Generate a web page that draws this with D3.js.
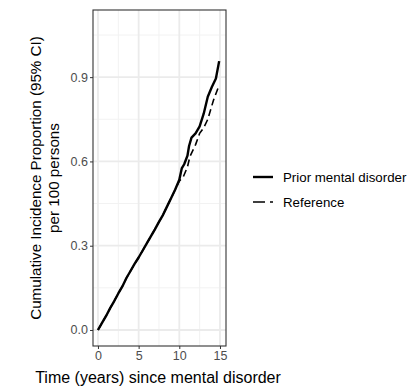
<!DOCTYPE html>
<html>
<head>
<meta charset="utf-8">
<script src="https://cdn.jsdelivr.net/npm/d3@7"></script>
<style>
body { margin: 0; background: #fff; }
text { font-family: "Liberation Sans", Arial, sans-serif; }
</style>
</head>
<body>
<svg width="408" height="387"></svg>
<script>
// data
var priorT = [0, 0.5, 1, 1.5, 2, 2.5, 3, 3.5, 4, 4.5, 5, 5.5, 6, 6.5, 7, 7.5, 8, 8.5, 9, 9.5, 10, 10.3, 10.6, 11, 11.2, 11.5, 12, 12.5, 13, 13.5, 14, 14.5, 14.9];
var priorV = [0, 0.025, 0.05, 0.078, 0.103, 0.13, 0.155, 0.185, 0.21, 0.235, 0.258, 0.283, 0.308, 0.333, 0.358, 0.385, 0.41, 0.44, 0.47, 0.5, 0.535, 0.575, 0.59, 0.62, 0.655, 0.685, 0.70, 0.725, 0.77, 0.83, 0.865, 0.895, 0.957];
var refT = [0, 0.5, 1, 1.5, 2, 2.5, 3, 3.5, 4, 4.5, 5, 5.5, 6, 6.5, 7, 7.5, 8, 8.5, 9, 9.5, 10, 10.5, 11, 11.3, 12, 12.5, 13, 13.5, 14.2, 14.9];
var refV = [0, 0.025, 0.05, 0.078, 0.103, 0.13, 0.155, 0.185, 0.21, 0.235, 0.258, 0.283, 0.308, 0.333, 0.358, 0.385, 0.41, 0.44, 0.47, 0.5, 0.53, 0.546, 0.58, 0.617, 0.66, 0.70, 0.72, 0.75, 0.818, 0.872];
var xTicks = [0, 5, 10, 15];
var yTicks = [0, 0.3, 0.6, 0.9];
var seriesNames = ["Prior mental disorder", "Reference"];

var svg = d3.select("svg");
var L = 93, R = 226, T = 10, B = 346;

var x = d3.scaleLinear().domain([-0.61, 15.74]).range([L, R]);
var y = d3.scaleLinear().domain([-0.057, 1.139]).range([B, T]);

// grid
var minorX = [2.5, 7.5, 12.5], minorY = [0.15, 0.45, 0.75, 1.05];
svg.selectAll(".mx").data(minorX).enter().append("line")
	.attr("x1", d => x(d)).attr("x2", d => x(d)).attr("y1", T).attr("y2", B)
	.attr("stroke", "#f2f2f2").attr("stroke-width", 1);
svg.selectAll(".my").data(minorY).enter().append("line")
	.attr("y1", d => y(d)).attr("y2", d => y(d)).attr("x1", L).attr("x2", R)
	.attr("stroke", "#f2f2f2").attr("stroke-width", 1);
svg.selectAll(".gx").data(xTicks).enter().append("line")
	.attr("x1", d => x(d)).attr("x2", d => x(d)).attr("y1", T).attr("y2", B)
	.attr("stroke", "#ebebeb").attr("stroke-width", 1.8);
svg.selectAll(".gy").data(yTicks).enter().append("line")
	.attr("y1", d => y(d)).attr("y2", d => y(d)).attr("x1", L).attr("x2", R)
	.attr("stroke", "#ebebeb").attr("stroke-width", 1.8);

// lines
var line = d3.line().x(d => x(d[0])).y(d => y(d[1])).curve(d3.curveLinear);
var prior = priorT.map((t, i) => [t, priorV[i]]);
var ref = refT.map((t, i) => [t, refV[i]]);

svg.append("path").datum(ref).attr("d", line)
	.attr("fill", "none").attr("stroke", "#000").attr("stroke-width", 1.6)
	.attr("stroke-dasharray", "7,4");
svg.append("path").datum(prior).attr("d", line)
	.attr("fill", "none").attr("stroke", "#000").attr("stroke-width", 2.4)
	.attr("stroke-linejoin", "round");

// panel border
svg.append("rect").attr("x", L).attr("y", T).attr("width", R - L).attr("height", B - T)
	.attr("fill", "none").attr("stroke", "#333").attr("stroke-width", 1.1);

// axes
var xAxis = svg.append("g").attr("transform", "translate(0," + B + ")")
	.call(d3.axisBottom(x).tickValues(xTicks).tickSize(3).tickPadding(2).tickFormat(d3.format("d")));
var yAxis = svg.append("g").attr("transform", "translate(" + L + ",0)")
	.call(d3.axisLeft(y).tickValues(yTicks).tickSize(3).tickPadding(2).tickFormat(d3.format(".1f")));
[xAxis, yAxis].forEach(function(g) {
	g.select(".domain").remove();
	g.selectAll("line").attr("stroke", "#333");
	g.selectAll("text").attr("fill", "#4d4d4d").style("font-size", "12.5px")
		.style("font-family", "Liberation Sans, Arial, sans-serif");
});

// titles
svg.append("text").attr("x", 158).attr("y", 383).attr("text-anchor", "middle")
	.style("font-size", "16px").attr("fill", "#000").text("Time (years) since mental disorder");
var yt = svg.append("text").attr("transform", "translate(41," + ((T + B) / 2) + ") rotate(-90)")
	.attr("text-anchor", "middle").style("font-size", "15.2px").attr("fill", "#000");
yt.append("tspan").attr("x", 0).attr("y", 0).text("Cumulative Incidence Proportion (95% CI)");
yt.append("tspan").attr("x", 0).attr("y", 18).text("per 100 persons");

// legend
var leg = svg.append("g");
seriesNames.forEach(function(n, i) {
	var yy = 177 + i * 25;
	leg.append("line").attr("x1", 253).attr("x2", 273).attr("y1", yy).attr("y2", yy)
		.attr("stroke", "#000").attr("stroke-width", i ? 1.6 : 2.4)
		.attr("stroke-dasharray", i ? "12,5" : null);
	leg.append("text").attr("x", 283).attr("y", yy + 4.5).style("font-size", "13.3px")
		.attr("fill", "#000").text(n);
});
</script>
</body>
</html>
